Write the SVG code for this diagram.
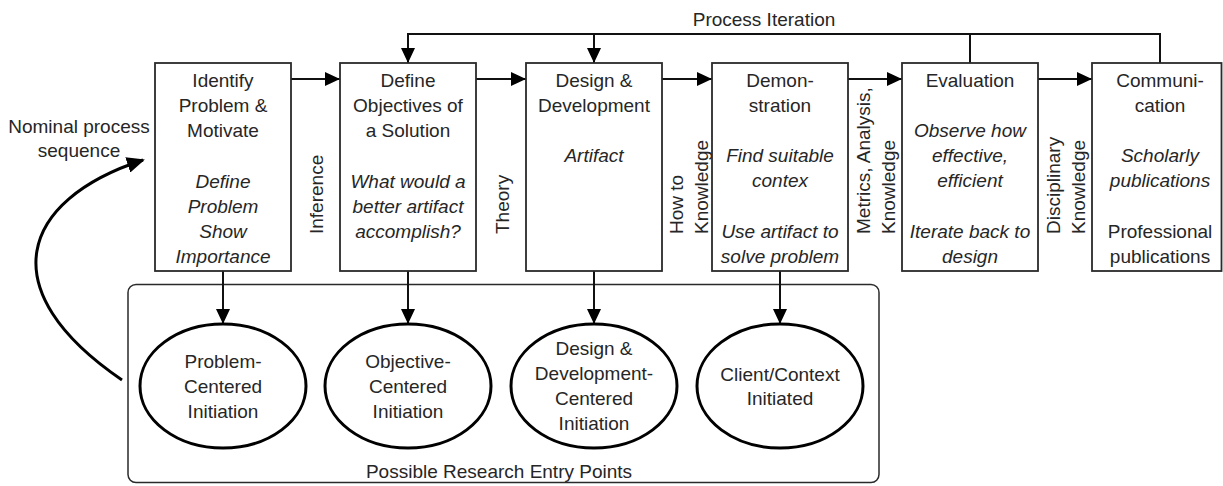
<svg xmlns="http://www.w3.org/2000/svg" width="1223" height="486" viewBox="0 0 1223 486">
<style>
  .box { fill: #ffffff; stroke: #2a2a2a; stroke-width: 1.8; }
  .ell { fill: #ffffff; stroke: #000000; stroke-width: 3; }
  .cont { fill: none; stroke: #2a2a2a; stroke-width: 1.5; }
  .conn { fill: none; stroke: #111111; stroke-width: 2; }
  .curve { fill: none; stroke: #000000; stroke-width: 3; }
  text { font-family: "Liberation Sans", Arial, sans-serif; font-size: 19px; fill: #262626; }
  .c { text-anchor: middle; }
  .i { font-style: italic; }
</style>
<defs>
  <marker id="ah" viewBox="0 0 15 14" refX="15" refY="7" markerWidth="15" markerHeight="14" orient="auto" markerUnits="userSpaceOnUse">
    <path d="M0,0 L15,7 L0,14 z" fill="#000000"/>
  </marker>
  <marker id="ahBig" viewBox="0 0 18 16" refX="16" refY="8" markerWidth="18" markerHeight="16" orient="auto" markerUnits="userSpaceOnUse">
    <path d="M0,0 L18,8 L0,16 z" fill="#000000"/>
  </marker>
</defs>

<g id="container">
  <rect class="cont" x="128" y="284.5" width="751" height="198" rx="8"/>
  <text class="c" x="499" y="478">Possible Research Entry Points</text>
</g>

<g id="connectors">
  <line class="conn" x1="291" y1="79" x2="340" y2="79" marker-end="url(#ah)"/>
  <line class="conn" x1="476" y1="79" x2="526" y2="79" marker-end="url(#ah)"/>
  <line class="conn" x1="662" y1="79" x2="712" y2="79" marker-end="url(#ah)"/>
  <line class="conn" x1="848" y1="79" x2="902" y2="79" marker-end="url(#ah)"/>
  <line class="conn" x1="1038" y1="79" x2="1092" y2="79" marker-end="url(#ah)"/>
  <polyline class="conn" points="408,34 1160,34 1160,63"/>
  <line class="conn" x1="970" y1="34" x2="970" y2="63"/>
  <line class="conn" x1="408" y1="33" x2="408" y2="63" marker-end="url(#ah)"/>
  <line class="conn" x1="594" y1="34" x2="594" y2="63" marker-end="url(#ah)"/>
  <line class="conn" x1="223" y1="271" x2="223" y2="324" marker-end="url(#ah)"/>
  <line class="conn" x1="408" y1="271" x2="408" y2="324" marker-end="url(#ah)"/>
  <line class="conn" x1="594" y1="271" x2="594" y2="324" marker-end="url(#ah)"/>
  <line class="conn" x1="780" y1="271" x2="780" y2="324" marker-end="url(#ah)"/>
  <path class="curve" d="M122,380 C-10,290 20,200 143,160" marker-end="url(#ahBig)"/>
  <text class="c" x="764" y="26">Process Iteration</text>
  <text class="c" x="79" y="133">Nominal process</text>
  <text class="c" x="79" y="157">sequence</text>
  <text transform="translate(323,234) rotate(-90)">Inference</text>
  <text transform="translate(509,234) rotate(-90)">Theory</text>
  <text transform="translate(683,234) rotate(-90)">How to</text>
  <text transform="translate(708,234) rotate(-90)">Knowledge</text>
  <text transform="translate(870,234) rotate(-90)">Metrics, Analysis,</text>
  <text transform="translate(895,234) rotate(-90)">Knowledge</text>
  <text transform="translate(1060,234) rotate(-90)">Disciplinary</text>
  <text transform="translate(1085,234) rotate(-90)">Knowledge</text>
</g>

<g id="identify">
  <rect class="box" x="155" y="63" width="136" height="208"/>
  <text class="c" x="223" y="87">Identify</text>
  <text class="c" x="223" y="112">Problem &amp;</text>
  <text class="c" x="223" y="137">Motivate</text>
  <text class="c i" x="223" y="188">Define</text>
  <text class="c i" x="223" y="213">Problem</text>
  <text class="c i" x="223" y="238">Show</text>
  <text class="c i" x="223" y="263">Importance</text>
</g>

<g id="objectives">
  <rect class="box" x="340" y="63" width="136" height="208"/>
  <text class="c" x="408" y="87">Define</text>
  <text class="c" x="408" y="112">Objectives of</text>
  <text class="c" x="408" y="137">a Solution</text>
  <text class="c i" x="408" y="188">What would a</text>
  <text class="c i" x="408" y="213">better artifact</text>
  <text class="c i" x="408" y="238">accomplish?</text>
</g>

<g id="design">
  <rect class="box" x="526" y="63" width="136" height="208"/>
  <text class="c" x="594" y="87">Design &amp;</text>
  <text class="c" x="594" y="112">Development</text>
  <text class="c i" x="594" y="162">Artifact</text>
</g>

<g id="demonstration">
  <rect class="box" x="712" y="63" width="136" height="208"/>
  <text class="c" x="780" y="87">Demon-</text>
  <text class="c" x="780" y="112">stration</text>
  <text class="c i" x="780" y="162">Find suitable</text>
  <text class="c i" x="780" y="187">contex</text>
  <text class="c i" x="780" y="238">Use artifact to</text>
  <text class="c i" x="780" y="263">solve problem</text>
</g>

<g id="evaluation">
  <rect class="box" x="902" y="63" width="136" height="208"/>
  <text class="c" x="970" y="87">Evaluation</text>
  <text class="c i" x="970" y="137">Observe how</text>
  <text class="c i" x="970" y="162">effective,</text>
  <text class="c i" x="970" y="187">efficient</text>
  <text class="c i" x="970" y="238">Iterate back to</text>
  <text class="c i" x="970" y="263">design</text>
</g>

<g id="communication">
  <rect class="box" x="1092" y="63" width="129.5" height="208"/>
  <text class="c" x="1160" y="87">Communi-</text>
  <text class="c" x="1160" y="112">cation</text>
  <text class="c i" x="1160" y="162">Scholarly</text>
  <text class="c i" x="1160" y="187">publications</text>
  <text class="c" x="1160" y="238">Professional</text>
  <text class="c" x="1160" y="263">publications</text>
</g>

<g id="problem-centered">
  <ellipse class="ell" cx="223" cy="386" rx="83" ry="62"/>
  <text class="c" x="223" y="368">Problem-</text>
  <text class="c" x="223" y="393">Centered</text>
  <text class="c" x="223" y="418">Initiation</text>
</g>

<g id="objective-centered">
  <ellipse class="ell" cx="408" cy="386" rx="83" ry="62"/>
  <text class="c" x="408" y="368">Objective-</text>
  <text class="c" x="408" y="393">Centered</text>
  <text class="c" x="408" y="418">Initiation</text>
</g>

<g id="design-centered">
  <ellipse class="ell" cx="594" cy="386" rx="83" ry="62"/>
  <text class="c" x="594" y="355">Design &amp;</text>
  <text class="c" x="594" y="380">Development-</text>
  <text class="c" x="594" y="405">Centered</text>
  <text class="c" x="594" y="430">Initiation</text>
</g>

<g id="client-initiated">
  <ellipse class="ell" cx="780" cy="386" rx="83" ry="62"/>
  <text class="c" x="780" y="381">Client/Context</text>
  <text class="c" x="780" y="405">Initiated</text>
</g>
</svg>
